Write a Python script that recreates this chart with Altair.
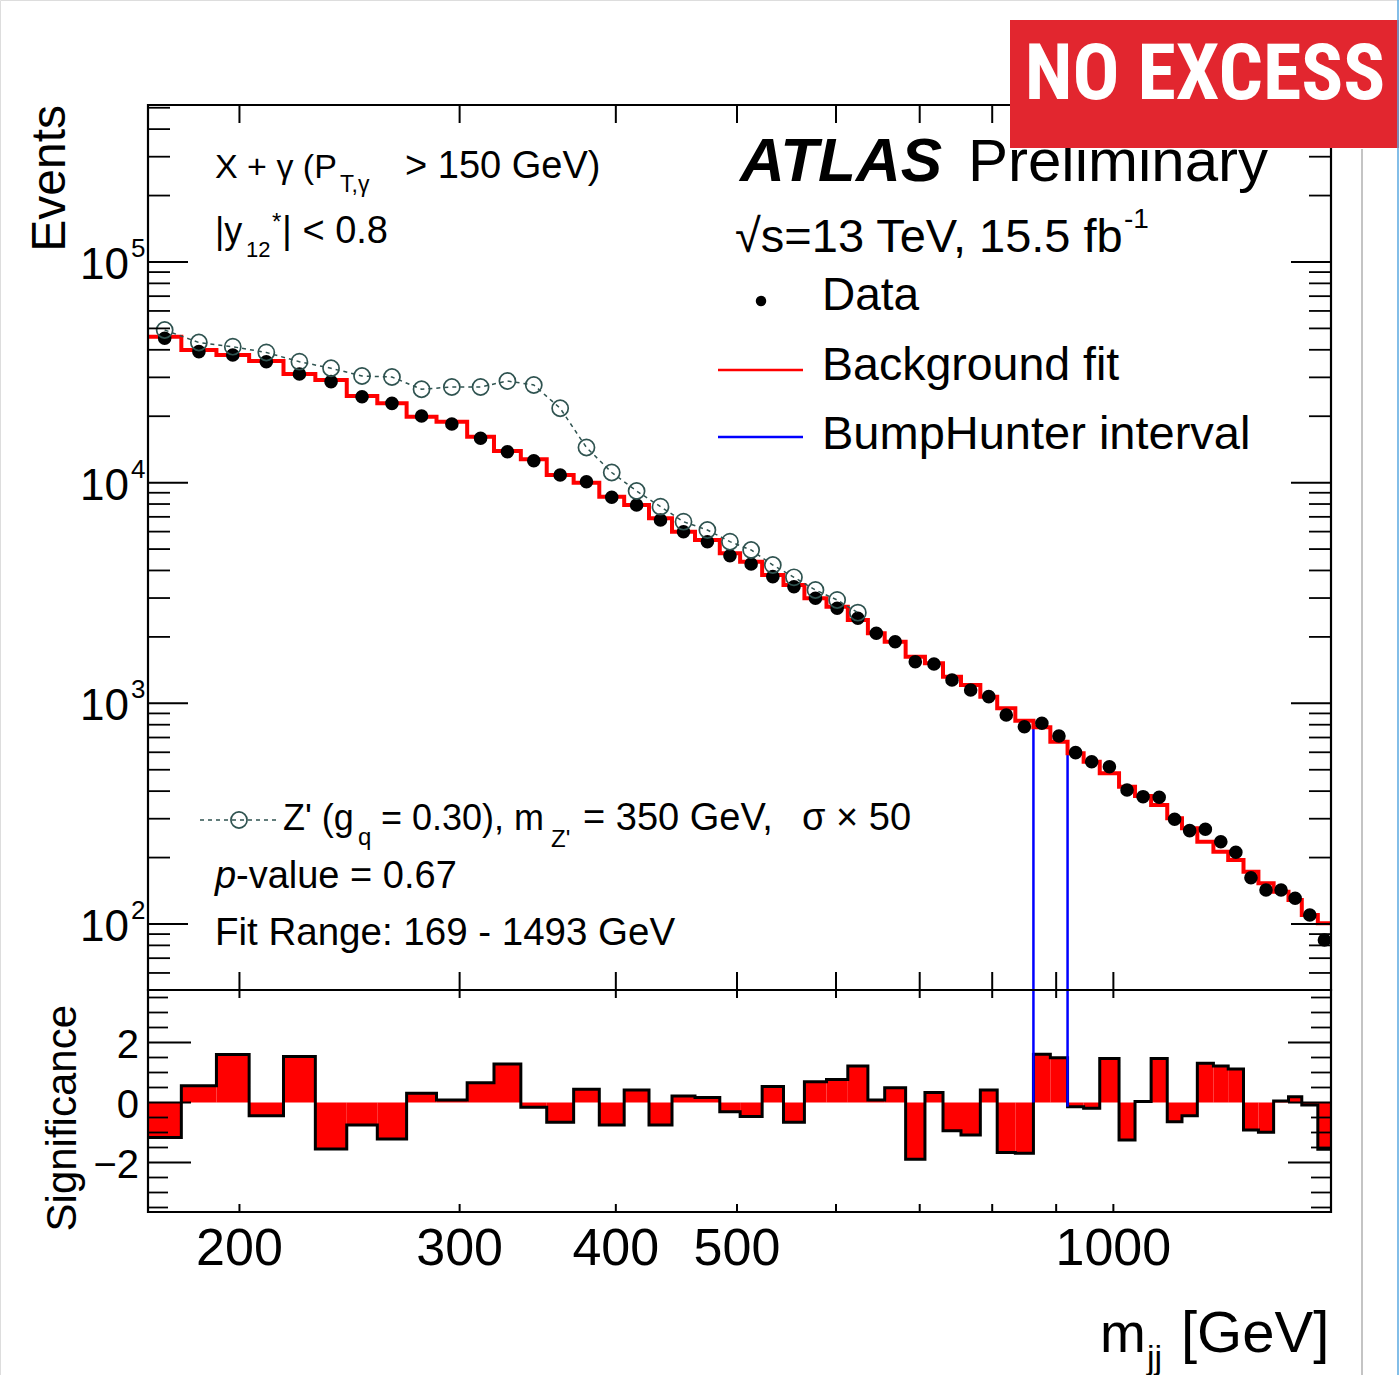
import altair as alt
import numpy as np
import pandas as pd

FONT = "Liberation Sans"
TEAL = "#2f5350"

# ---------------------------------------------------------------- data
# m_jj bin edges [GeV]
edges = [169.0, 179.7, 191.7, 203.6, 216.9, 230.0, 243.7, 257.8, 272.1, 287.5,
         304.2, 319.6, 335.8, 352.2, 370.1, 388.0, 406.2, 425.2, 443.6, 462.8,
         484.4, 502.9, 523.7, 544.7, 566.1, 589.6, 613.2, 636.3, 656.3, 682.1,
         706.8, 730.7, 755.3, 782.7, 807.4, 834.8, 863.1, 890.4, 919.1, 946.7,
         975.2, 1010.5, 1040.7, 1072.0, 1104.3, 1134.7, 1167.2, 1202.3, 1235.5, 1270.8,
         1306.2, 1343.3, 1380.6, 1414.8, 1457.2, 1493.0]

# background fit, events per bin
bkg_fit = [45860, 39920, 37890, 35580, 31080, 29190, 24700, 22880, 19900, 18890,
           16150, 13920, 12760, 10830, 10000, 8638, 7921, 6895, 5995, 5499,
           4786, 4383, 3815, 3438, 2992, 2741, 2385, 2077, 1902, 1627,
           1518, 1320, 1211, 1072, 949.5, 834.2, 778.7, 670.1, 593.6, 543.8,
           481.8, 419.0, 380.4, 346.1, 301.3, 271.5, 236.0, 212.6, 195.0, 172.6,
           152.9, 140.1, 128.5, 109.8, 100.7]

# observed events per bin
data_events = [45100, 39230, 37890, 35330, 31080, 28680, 24520, 22880, 20050, 18440,
               15890, 13810, 12570, 10830, 10100, 8584, 7921, 6773, 5995, 5401,
               4662, 4279, 3749, 3377, 2992, 2696, 2428, 2077, 1902, 1544,
               1508, 1276, 1149, 1072, 885.1, 783.6, 812.0, 711.2, 597.5, 543.8,
               516.1, 404.7, 377.5, 375.2, 298.2, 264.8, 268.7, 236.0, 211.3, 162.1,
               142.6, 142.6, 130.8, 109.8, 84.6]

# bin-by-bin significance of data vs. fit
significance = [-1.17, 0.56, 1.60, -0.44, 1.53, -1.55, -0.75, -1.22, 0.31, 0.08,
                0.66, 1.28, -0.16, -0.66, 0.44, -0.75, 0.42, -0.75, 0.22, 0.17,
                -0.31, -0.47, 0.53, -0.66, 0.69, 0.77, 1.22, 0.08, 0.49, -1.89,
                0.33, -0.94, -1.08, 0.42, -1.67, -1.69, 1.61, 1.49, -0.14, -0.19,
                1.47, -1.25, 0.03, 1.47, -0.64, -0.44, 1.31, 1.22, 1.12, -0.92,
                -0.99, 0.05, 0.19, -0.08, -1.56]

# Z' (350 GeV, sigma x 50) injected on top of the background, first 27 bins
zprime_plus_bkg = [49180, 43170, 41310, 38900, 35330, 32990, 30430, 30110, 26500, 27130,
                   27130, 28880, 27710, 21730, 14430, 11120, 9167, 7782, 6654, 6103,
                   5401, 4953, 4235, 3725, 3263, 2940, 2575]

# BumpHunter interval edges and where its lines end
bh_edges = [863.1, 919.1]
bh_fit_top = [778.7, 670.1]
bh_sig_end = [0.0, -0.14]

# axis ticks / labels
x_label_vals = [200, 300, 400, 500, 1000]
x_label_text = ["200", "300", "400", "500", "1000"]
x_other_ticks = [600, 700, 800, 900]
y_decades = [100, 1000, 10000, 100000]
y_decade_exp = ["2", "3", "4", "5"]
y_minor = [60, 70, 80, 90] + [m * 10 ** k for k in (2, 3, 4) for m in range(2, 10)] + [200000, 300000, 400000, 500000]
sig_major = [-2, 0, 2]
sig_major_text = ["\u22122", "0", "2"]
sig_minor = [-3.5, -3, -2.5, -1.5, -1, -0.5, 0.5, 1, 1.5, 2.5, 3, 3.5]

# ---------------------------------------------------------------- frames
LEFT, RIGHT = 148, 1331
TOP, MID, BOT = 105, 990, 1212

X_SC = alt.Scale(type="log", domain=[169, 1493], range=[LEFT, RIGHT], nice=False)
Y_UP = alt.Scale(type="log", domain=[50.22, 514500], range=[MID, TOP], nice=False)
Y_LO = alt.Scale(domain=[-3.65, 3.75], range=[BOT, MID], nice=False, zero=False)

lo, hi = edges[:-1], edges[1:]
centre = [float(np.sqrt(a * b)) for a, b in zip(lo, hi)]

bins_df = pd.DataFrame({"lo": lo, "hi": hi, "mid": centre, "fit": bkg_fit,
                        "data": data_events, "sig": significance, "zero": 0.0})
step_df = pd.DataFrame({"x": edges, "fit": bkg_fit + [bkg_fit[-1]],
                        "sig": significance + [significance[-1]]})
zp_df = pd.DataFrame({"mid": centre[:len(zprime_plus_bkg)], "n": zprime_plus_bkg})
bh_df = pd.DataFrame({"x": bh_edges, "top": bh_fit_top, "end": bh_sig_end})

XA = dict(scale=X_SC, axis=None)


def one():
    return alt.Chart(alt.Data(values=[{}]))


def txt(s, x, y, size, align="left", baseline="alphabetic", style="normal",
        weight="normal", color="black", font=FONT, angle=0):
    return one().mark_text(text=s, align=align, baseline=baseline, fontSize=size,
                           fontStyle=style, fontWeight=weight, color=color,
                           font=font, angle=angle).encode(x=alt.value(x), y=alt.value(y))


def hrule(x0, x1, y, color="black", width=2, dash=None):
    kw = dict(color=color, strokeWidth=width)
    if dash:
        kw["strokeDash"] = dash
    return one().mark_rule(**kw).encode(x=alt.value(x0), x2=alt.value(x1), y=alt.value(y))


def vrule(x, y0, y1, color="black", width=2):
    return one().mark_rule(color=color, strokeWidth=width).encode(
        x=alt.value(x), y=alt.value(y0), y2=alt.value(y1))


def box(x0, y0, x1, y1, **kw):
    return one().mark_rect(**kw).encode(x=alt.value(x0), x2=alt.value(x1),
                                        y=alt.value(y0), y2=alt.value(y1))


def yticks(vals, scale, length, width=2):
    df = pd.DataFrame({"v": vals})
    left = alt.Chart(df).mark_rule(color="black", strokeWidth=width).encode(
        y=alt.Y("v:Q", scale=scale, axis=None), x=alt.value(LEFT), x2=alt.value(LEFT + length))
    right = alt.Chart(df).mark_rule(color="black", strokeWidth=width).encode(
        y=alt.Y("v:Q", scale=scale, axis=None), x=alt.value(RIGHT - length), x2=alt.value(RIGHT))
    return [left, right]


def xticks(vals, y0, y1, width=2):
    return alt.Chart(pd.DataFrame({"v": vals})).mark_rule(color="black", strokeWidth=width).encode(
        x=alt.X("v:Q", **XA), y=alt.value(y0), y2=alt.value(y1))


layers = []

# significance panel
layers.append(alt.Chart(bins_df).mark_rect(color="#ff0000").encode(
    x=alt.X("lo:Q", **XA), x2="hi",
    y=alt.Y("sig:Q", scale=Y_LO, axis=None), y2="zero"))
layers.append(alt.Chart(step_df).mark_line(interpolate="step-after", color="black", strokeWidth=3).encode(
    x=alt.X("x:Q", **XA), y=alt.Y("sig:Q", scale=Y_LO, axis=None)))

# BumpHunter interval
layers.append(alt.Chart(bh_df).mark_rule(color="#0000ff", strokeWidth=2.5).encode(
    x=alt.X("x:Q", **XA), y=alt.Y("top:Q", scale=Y_UP, axis=None), y2=alt.value(MID)))
layers.append(alt.Chart(bh_df).mark_rule(color="#0000ff", strokeWidth=2.5).encode(
    x=alt.X("x:Q", **XA), y=alt.Y("end:Q", scale=Y_LO, axis=None), y2=alt.value(MID)))

# background fit, data, signal model
layers.append(alt.Chart(step_df).mark_line(interpolate="step-after", color="#ff0000", strokeWidth=4).encode(
    x=alt.X("x:Q", **XA), y=alt.Y("fit:Q", scale=Y_UP, axis=None)))
layers.append(alt.Chart(bins_df).mark_circle(color="black", size=185, opacity=1).encode(
    x=alt.X("mid:Q", **XA), y=alt.Y("data:Q", scale=Y_UP, axis=None)))
layers.append(alt.Chart(zp_df).mark_line(color=TEAL, strokeWidth=1.5, strokeDash=[4, 4]).encode(
    x=alt.X("mid:Q", **XA), y=alt.Y("n:Q", scale=Y_UP, axis=None)))
layers.append(alt.Chart(zp_df).mark_point(shape="circle", filled=False, color=TEAL, size=260,
                                          strokeWidth=1.7, opacity=1).encode(
    x=alt.X("mid:Q", **XA), y=alt.Y("n:Q", scale=Y_UP, axis=None)))

# ticks
layers += yticks(y_decades, Y_UP, 40)
layers += yticks(y_minor, Y_UP, 22, 1.8)
layers += yticks(sig_major, Y_LO, 43)
layers += yticks(sig_minor, Y_LO, 20, 1.8)
layers.append(xticks(x_label_vals + x_other_ticks, TOP, TOP + 18))
layers.append(xticks(x_label_vals + x_other_ticks, MID - 18, MID))
layers.append(xticks(x_label_vals + x_other_ticks, MID, MID + 8))
layers.append(xticks(x_label_vals + x_other_ticks, BOT - 8, BOT))

# frames
layers.append(box(LEFT, TOP, RIGHT, MID, fillOpacity=0, stroke="black", strokeWidth=2.2))
layers.append(box(LEFT, MID, RIGHT, BOT, fillOpacity=0, stroke="black", strokeWidth=2.2))

# tick labels
dec_df = pd.DataFrame({"v": y_decades, "base": ["10"] * 4, "exp": y_decade_exp})
layers.append(alt.Chart(dec_df).mark_text(align="right", baseline="middle", dy=4, fontSize=44,
                                          font=FONT, color="black").encode(
    y=alt.Y("v:Q", scale=Y_UP, axis=None), x=alt.value(129), text="base:N"))
layers.append(alt.Chart(dec_df).mark_text(align="left", baseline="middle", dy=-13, fontSize=26,
                                          font=FONT, color="black").encode(
    y=alt.Y("v:Q", scale=Y_UP, axis=None), x=alt.value(131), text="exp:N"))
sig_lab = pd.DataFrame({"v": sig_major, "t": sig_major_text})
layers.append(alt.Chart(sig_lab).mark_text(align="right", baseline="middle", dy=3, fontSize=40,
                                           font=FONT, color="black").encode(
    y=alt.Y("v:Q", scale=Y_LO, axis=None), x=alt.value(139), text="t:N"))
x_lab = pd.DataFrame({"v": x_label_vals, "t": x_label_text})
layers.append(alt.Chart(x_lab).mark_text(align="center", baseline="alphabetic", fontSize=52,
                                         font=FONT, color="black").encode(
    x=alt.X("v:Q", **XA), y=alt.value(1265), text="t:N"))

# axis titles
layers.append(txt("Events", 65, TOP, 48, align="right", angle=270))
layers.append(txt("Significance", 76, 1005, 42, align="right", angle=270))
layers.append(txt("m", 1100, 1352, 55))
layers.append(txt("jj", 1147, 1369, 34))
layers.append(txt("[GeV]", 1181, 1352, 58))

# selection text
layers.append(txt("X + \u03b3 (P", 215, 178, 34))
layers.append(txt("T,\u03b3", 340, 192, 23))
layers.append(txt("> 150 GeV)", 405, 178, 38))
layers.append(txt("|y", 215, 243, 36))
layers.append(txt("12", 246, 257, 22))
layers.append(txt("*", 272, 230, 24))
layers.append(txt("| < 0.8", 282, 243, 38))

# experiment label
layers.append(txt("ATLAS", 740, 181, 62, weight="bold", style="italic"))
layers.append(txt("Preliminary", 968, 181, 60))
layers.append(txt("\u221as=13 TeV, 15.5 fb", 735, 252, 47))
layers.append(txt("-1", 1124, 228, 28))

# legend
layers.append(one().mark_circle(color="black", size=110, opacity=1).encode(
    x=alt.value(761), y=alt.value(301)))
layers.append(hrule(718, 803, 370, color="#ff0000", width=2.5))
layers.append(hrule(718, 803, 437, color="#0000ff", width=2.5))
layers.append(txt("Data", 822, 310, 46))
layers.append(txt("Background fit", 822, 380, 46.5))
layers.append(txt("BumpHunter interval", 822, 449, 47))

# signal legend and fit info
layers.append(hrule(200, 276, 820, color=TEAL, width=1.5, dash=[4, 4]))
layers.append(one().mark_point(shape="circle", filled=False, color=TEAL, size=260,
                               strokeWidth=1.7, opacity=1).encode(x=alt.value(239), y=alt.value(820)))
layers.append(txt("Z' (g", 283, 830, 36))
layers.append(txt("q", 358, 845, 24))
layers.append(txt("= 0.30), m", 381, 830, 36))
layers.append(txt("Z'", 551, 847, 24))
layers.append(txt("= 350 GeV,", 583, 830, 38))
layers.append(txt("\u03c3 \u00d7 50", 802, 830, 38))
layers.append(txt("p", 215, 888, 38, style="italic"))
layers.append(txt("-value = 0.67", 236, 888, 38))
layers.append(txt("Fit Range: 169 - 1493 GeV", 215, 945, 38.5))

# banner and page edges
layers.append(box(1010, 20, 1399, 148, color="#e2262f", opacity=1))
layers.append(txt("NO EXCESS", 1205, 99, 78, align="center", weight="bold", color="white",
                  font="Roboto Condensed, Roboto, sans-serif"))
layers.append(vrule(1362, 149, 1375, color="#c4c4c4", width=2))
layers.append(vrule(1398, 0, 1375, color="#5aa9e0", width=1.5))

chart = alt.layer(*layers).resolve_scale(y="independent").properties(
    width=1399, height=1375, padding=0,
    autosize=alt.AutoSizeParams(type="none"),
).configure_view(strokeOpacity=0).configure(background="white")

chart.save("out.html", embed_options={"renderer": "svg", "actions": False})
